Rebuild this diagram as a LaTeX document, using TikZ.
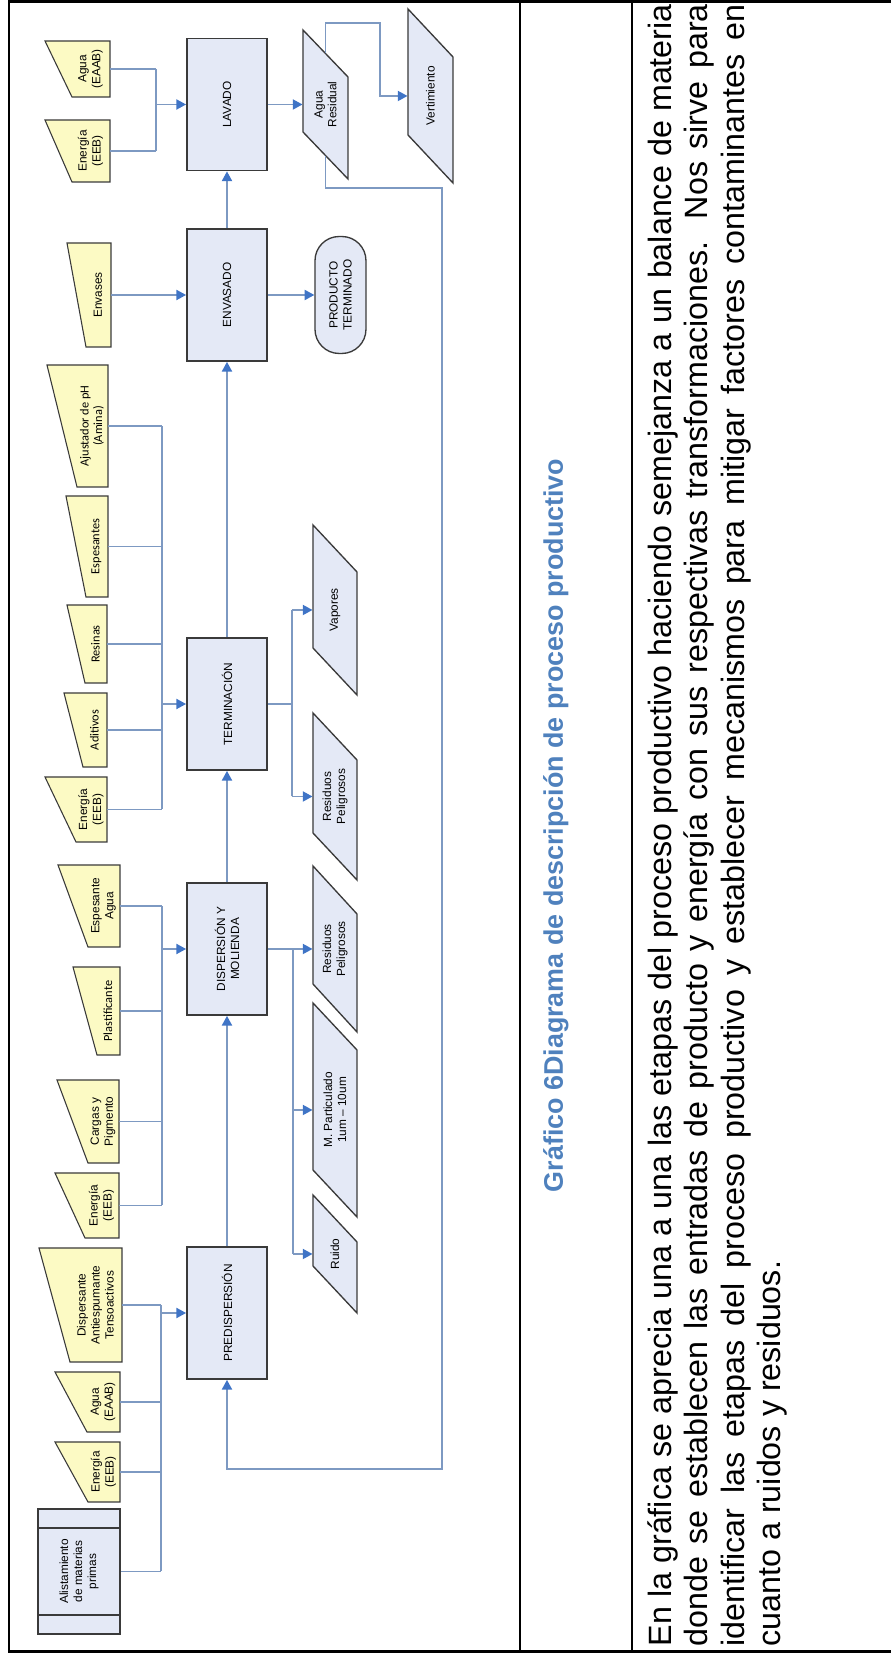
\documentclass[tikz,border=0pt]{standalone}
\usepackage{fontspec}
\setmainfont{Liberation Sans}
\newfontfamily\calibri{Carlito}
\usetikzlibrary{arrows.meta}

\definecolor{amarillo}{HTML}{FCFAC4}
\definecolor{lavanda}{HTML}{E4E9F6}
\definecolor{borde}{HTML}{3A3A3A}
\definecolor{azul}{HTML}{7D99C2}
\definecolor{punta}{HTML}{3F74C6}
\definecolor{titazul}{HTML}{4F81BD}

\newcommand{\pxu}{0.372pt}

% entrada manual: nombre, u izq, u der, v base, v arriba der, v arriba izq, estilo, texto
\newcommand{\entrada}[8]{%
  \filldraw[entrada] (#2,#4) -- (#3,#4) -- (#3,#5) -- (#2,#6) -- cycle;
  \node[#7, minimum width={(#3-#2)*\pxu}, minimum height={(#6-#4)*\pxu}, anchor=south] (#1) at ({(#2+#3)/2},#4) {#8};
}
% salida (paralelogramo): nombre, u base izq, u base der, v base, v arriba, desfase, texto
\newcommand{\salida}[7]{%
  \filldraw[salida] (#2,#4) -- (#3,#4) -- ({#3+#6},#5) -- ({#2+#6},#5) -- cycle;
  \node[etq, minimum width={(#3-#2)*\pxu}, minimum height={(#5-#4)*\pxu}] (#1) at ({(#2+#3+#6)/2},{(#4+#5)/2}) {#7};
}

\begin{document}
\begin{tikzpicture}[x=0.372pt, y=0.372pt, rotate=90, transform shape,
    etq/.style={align=center, inner sep=0pt, font=\fontsize{4.4}{5.2}\selectfont},
    etqc/.style={align=center, inner sep=0pt, font=\calibri\fontsize{4.6}{5}\selectfont},
    entrada/.style={fill=amarillo, draw=borde, line width=0.4pt},
    salida/.style={fill=lavanda, draw=borde, line width=0.5pt},
    proceso/.style={rectangle, draw=borde, fill=lavanda, line width=0.7pt, minimum width=132*\pxu, minimum height=80*\pxu, etq},
    final/.style={rectangle, rounded corners=9pt, draw=borde, fill=lavanda, line width=0.5pt, minimum width=117*\pxu, minimum height=51*\pxu, etq},
    linea/.style={draw=azul, line width=0.5pt},
    flecha/.style={linea, -{Triangle[length=3.6pt, width=3.8pt, color=punta]}},
    tabla/.style={line width=1pt}]
  \useasboundingbox (0,0) rectangle (1653,891);

  % tabla
  \draw[tabla] (0,882) -- (1653,882);
  \draw[tabla] (0,371) -- (1653,371);
  \draw[tabla] (0,259) -- (1653,259);
  \draw[tabla] (1.5,0) -- (1.5,882);
  \draw[tabla] (1651.5,0) -- (1651.5,882);

  % entradas
  \node[rectangle, draw=borde, fill=lavanda, line width=0.6pt, minimum width=125*\pxu, minimum height=82*\pxu, etq] (alist) at (81.5,812) {Alistamiento\\de materias\\primas};
  \draw[borde, line width=0.6pt] (38,771) -- (38,853) (125,771) -- (125,853);
  \entrada{ener1}{151}{211}{771}{836}{803}{etq}{Energía\\(EEB)}
  \entrada{agua1}{221}{281}{771}{836}{804}{etq}{Agua\\(EAAB)}
  \entrada{disp}{291}{405}{769}{852}{821}{etq}{Dispersante\\Antiespumante\\Tensoactivos}
  \entrada{ener2}{415}{480}{772}{836}{806}{etq}{Energía\\(EEB)}
  \entrada{cargas}{490}{573}{772}{834}{803}{etq}{Cargas y\\Pigmento}
  \entrada{plast}{598}{686}{771}{818}{794}{etqc}{Plastificante}
  \entrada{espagua}{706}{788}{771}{833}{803}{etq}{Espesante\\Agua}
  \entrada{ener3}{811}{876}{784}{846}{815}{etq}{Energía\\(EEB)}
  \entrada{aditivos}{886}{960}{784}{827}{808}{etqc}{Aditivos}
  \entrada{resinas}{970}{1048}{784}{824}{806}{etqc}{Resinas}
  \entrada{espes}{1056}{1157}{783}{825}{805}{etqc}{Espesantes}
  \entrada{ajust}{1166}{1288}{783}{844}{814}{etqc}{Ajustador de pH\\(Amina)}
  \entrada{envases}{1306}{1410}{780}{824}{805}{etq}{Envases}
  \entrada{ener4}{1471}{1533}{781}{846}{819}{etq}{Energía\\(EEB)}
  \entrada{agua2}{1556}{1612}{781}{846}{819}{etq}{Agua\\(EAAB)}

  % procesos
  \node[proceso] (pre) at (340,664) {PREDISPERSIÓN};
  \node[proceso] (dis) at (704,664) {DISPERSIÓN Y\\MOLIENDA};
  \node[proceso] (ter) at (949,664) {TERMINACIÓN};
  \node[proceso] (env) at (1358,664) {ENVASADO};
  \node[proceso] (lav) at (1548.5,664) {LAVADO};

  % salidas
  \salida{ruido}{340}{411}{534}{578}{47}{Ruido}
  \salida{mpart}{436}{603}{534}{578}{47}{M. Particulado\\1um -- 10um}
  \salida{res1}{621}{739}{534}{578}{48}{Residuos\\Peligrosos}
  \salida{res2}{773}{893}{534}{578}{47}{Residuos\\Peligrosos}
  \salida{vap}{958}{1081}{534}{578}{47}{Vapores}
  \salida{agres}{1474}{1576}{543}{588}{47}{Agua\\Residual}
  \salida{vert}{1470}{1596}{438}{483}{48}{Vertimiento}
  \node[final] (prod) at (1358,550.5) {PRODUCTO\\TERMINADO};

  % conexiones de entrada
  \coordinate (bpre) at (0,730);
  \coordinate (bdis) at (0,729);
  \coordinate (bter) at (0,729);
  \coordinate (blav) at (0,735);
  \foreach \n in {alist,ener1,agua1,disp}
    \draw[linea] (\n.south) -- (\n.south |- bpre);
  \draw[linea] (alist.south |- bpre) -- (disp.south |- bpre);
  \draw[flecha] (pre.north |- bpre) -- (pre.north);
  \foreach \n in {ener2,cargas,plast,espagua}
    \draw[linea] (\n.south) -- (\n.south |- bdis);
  \draw[linea] (ener2.south |- bdis) -- (espagua.south |- bdis);
  \draw[flecha] (dis.north |- bdis) -- (dis.north);
  \foreach \n in {ener3,aditivos,resinas,espes,ajust}
    \draw[linea] (\n.south) -- (\n.south |- bter);
  \draw[linea] (ener3.south |- bter) -- (ajust.south |- bter);
  \draw[flecha] (ter.north |- bter) -- (ter.north);
  \draw[flecha] (envases.south) -- (env.north);
  \foreach \n in {ener4,agua2}
    \draw[linea] (\n.south) -- (\n.south |- blav);
  \draw[linea] (ener4.south |- blav) -- (agua2.south |- blav);
  \draw[flecha] (lav.north |- blav) -- (lav.north);

  % etapas
  \foreach \source/\dest in {pre/dis, dis/ter, ter/env, env/lav}
    \draw[flecha] (\source) -- (\dest);

  % conexiones de salida
  \coordinate (sdis) at (0,598);
  \coordinate (ster) at (0,599);
  \draw[linea] (dis.south) -- (dis.south |- sdis);
  \draw[linea] (res1.north |- sdis) -- (ruido.north |- sdis);
  \foreach \n in {res1,mpart,ruido}
    \draw[flecha] (\n.north |- sdis) -- (\n.north);
  \draw[linea] (ter.south) -- (ter.south |- ster);
  \draw[linea] (res2.north |- ster) -- (vap.north |- ster);
  \foreach \n in {res2,vap}
    \draw[flecha] (\n.north |- ster) -- (\n.north);
  \draw[flecha] (env.south) -- (prod.north);
  \draw[flecha] (lav.south) -- (lav.south |- agres.north);
  \coordinate (v1) at (1630,511);
  \draw[flecha] (agres.east) -| (v1) -| (vert.north);
  \coordinate (r1) at (1465,449);
  \coordinate (r2) at (184,449);
  \draw[flecha] (agres.west) -| (r1) -- (r2) |- (pre.west);

  % textos de la tabla
  \node[anchor=base, inner sep=0pt, text=titazul, font=\bfseries\fontsize{10}{12}\selectfont] (grafico) at (827.5,328) {Gráfico 6Diagrama de descripción de proceso productivo};
  \node[anchor=base west, inner sep=0pt, align=left, font=\fontsize{12}{13.5}\selectfont] (texto) at (6,110.6)
    {\makebox[611pt][s]{En la gráfica se aprecia una a una las etapas del proceso productivo haciendo semejanza a un balance de materia}\\
     \makebox[611pt][s]{donde se establecen las entradas de producto y energía con sus respectivas transformaciones. Nos sirve para}\\
     \makebox[611pt][s]{identificar las etapas del proceso productivo y establecer mecanismos para mitigar factores contaminantes en}\\
     cuanto a ruidos y residuos.};
\end{tikzpicture}
\end{document}
